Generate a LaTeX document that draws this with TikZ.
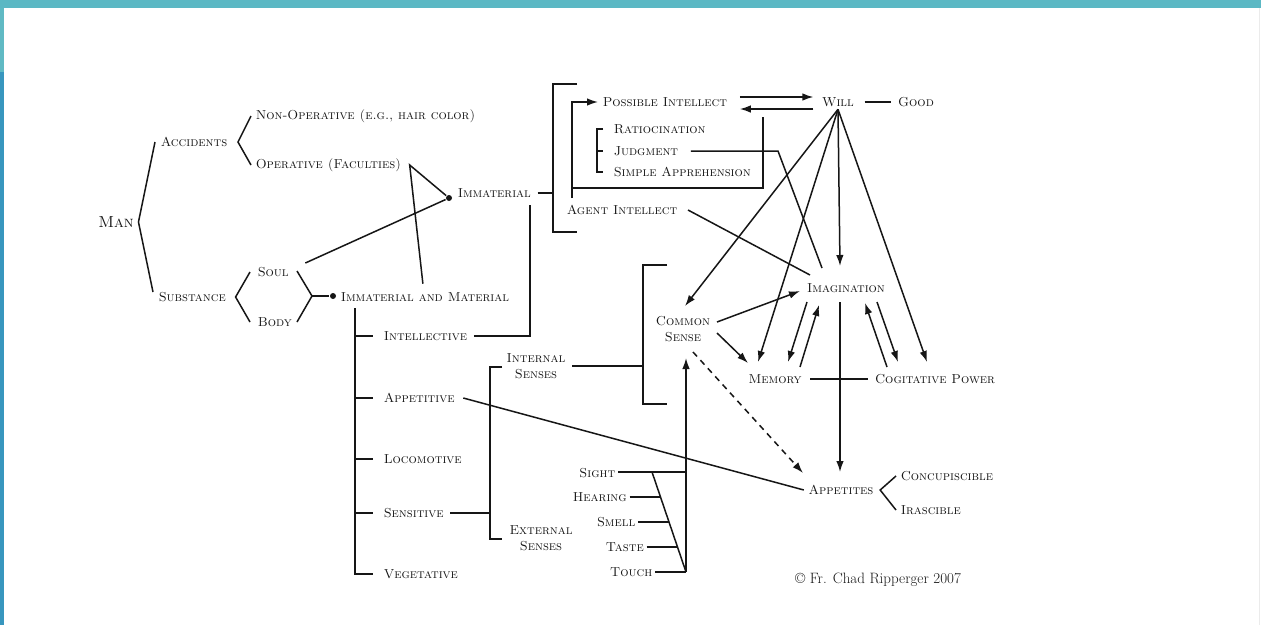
\documentclass[tikz,border=0pt]{standalone}
\usepackage{amsmath,amssymb}
\usepackage{xcolor}
\usetikzlibrary{arrows.meta,calc}

\definecolor{barteal}{RGB}{91,184,196}
\definecolor{stripteal}{RGB}{96,186,196}
\definecolor{stripblue}{RGB}{56,150,190}
\definecolor{ink}{RGB}{22,22,22}

\tikzset{
  lbl/.style={font=\scshape\fontsize{13}{14}\selectfont, inner sep=2pt},
  twoline/.style={align=center, inner sep=2pt, font=\scshape\fontsize{13}{16.5}\selectfont},
  arr/.style={-{Latex[length=11pt,width=7.5pt]}},
  jdot/.style={circle, fill=ink, inner sep=0pt, minimum size=6pt},
}

\begin{document}
\begin{tikzpicture}[x=1pt, y=-1pt, line width=1.5pt, color=ink]
    % page and frame
    \fill[white] (0,0) rectangle (1261,625);
    \useasboundingbox (0,0) rectangle (1261,625);
    \fill[barteal] (0,0) rectangle (1261,8);
    \fill[stripteal] (0,8) rectangle (4,72);
    \fill[stripblue] (0,72) rectangle (4,625);
    \draw[black!8, line width=0.8pt] (1259,8) -- (1259,625);

    % left tree
    \node[lbl, font=\scshape\fontsize{16}{16}\selectfont] (man) at (116,222) {Man};
    \node[lbl, anchor=west] (accidents) at (158,142) {Accidents};
    \node[lbl, anchor=west] (substance) at (156,297) {Substance};
    \node[lbl, anchor=west] (nonop) at (253,116) {Non-Operative (e.g., hair color)};
    \node[lbl, anchor=west] (operative) at (253,165) {Operative (Faculties)};
    \node[lbl, anchor=west] (soul) at (255,272) {Soul};
    \node[lbl, anchor=west] (body) at (255,322) {Body};
    \node[lbl, anchor=west] (immaterial) at (455,193) {Immaterial};
    \node[lbl, anchor=west] (immat) at (338,297) {Immaterial and Material};
    \node[jdot] (jimm) at (449,198) {};
    \node[jdot] (jmat) at (333,296) {};

    \draw ([xshift=-3pt]accidents.west) -- ([xshift=2pt]man.east) -- ([shift={(-3,-5)}]substance.west);
    \draw ([xshift=-2pt]nonop.west) -- ([xshift=8pt]accidents.east) -- ([xshift=-2pt]operative.west);
    \draw ([xshift=-5pt]soul.west) -- ([xshift=7pt]substance.east) -- ([xshift=-5pt]body.west);
    \coordinate (sbv) at (312,296);
    \draw (sbv) ++(-15,-25) -- (sbv) -- ++(-15,26);
    \draw (sbv) -- (jmat);
    \draw ([shift={(14,-9)}]soul.east) -- (jimm);
    \coordinate (opv) at ([xshift=6pt]operative.east);
    \draw (jimm) -- (opv) -- ([shift={(-2,-6)}]immat.north);

    % faculties
    \foreach \n/\t/\y in {intellective/Intellective/336, appetitive/Appetitive/398,
                          locomotive/Locomotive/459, sensitive/Sensitive/513, vegetative/Vegetative/574}
        \node[lbl, anchor=west] (\n) at (381,\y) {\t};
    \coordinate (spine) at (355,308);
    \draw (spine) |- ([xshift=-8pt]vegetative.west);
    \foreach \n in {intellective,appetitive,locomotive,sensitive}
        \draw (spine |- \n.west) -- ([xshift=-8pt]\n.west);
    \coordinate (iup) at (530,205);
    \draw ([xshift=4pt]intellective.east) -| (iup);

    % intellect
    \coordinate (bkl) at (553,84);
    \draw (bkl) ++(24,0) -- (bkl) -- ++(0,148) -- ++(24,0);
    \draw ([xshift=4pt]immaterial.east) -- (immaterial.east -| bkl);
    \node[lbl, anchor=west] (possible) at (600,102) {Possible Intellect};
    \node[lbl] (will) at (838,102) {Will};
    \node[lbl] (good) at (916,102) {Good};
    \node[lbl, anchor=west] (ratio) at (611,129) {Ratiocination};
    \node[lbl, anchor=west] (judgment) at (611,151) {Judgment};
    \node[lbl, anchor=west] (simple) at (611,172) {Simple Apprehension};
    \node[lbl, anchor=west] (agent) at (564,210) {Agent Intellect};
    \coordinate (rbk) at (597,129);
    \draw ([xshift=-8pt]ratio.west) -- (rbk) |- ([xshift=-8pt]simple.west);
    \draw (judgment.west -| rbk) -- ([xshift=-8pt]judgment.west);
    \coordinate (lpx) at (572,198);
    \coordinate (lbot) at (572,188);
    \coordinate (rtop) at (763,117);
    \draw[arr] (lpx) |- ([xshift=-2pt]possible.west);
    \draw (rtop) |- (lbot);
    \draw[arr] ([shift={(10,-5)}]possible.east) -- ([shift={(-6,-5)}]will.west);
    \draw[arr] ([shift={(-6,7)}]will.west) -- ([shift={(10,7)}]possible.east);
    \draw ([xshift=8pt]will.east) -- ([xshift=-4pt]good.west);

    % senses
    \node[twoline] (internal) at (536,366) {Internal\\Senses};
    \node[twoline] (external) at (541,538) {External\\Senses};
    \node[twoline] (common) at (683,329) {Common\\Sense};
    \coordinate (sbk) at (490,367);
    \draw ([xshift=4pt]sensitive.east) -- (sensitive.east -| sbk);
    \draw (sbk) ++(12,0) -- (sbk) -- ++(0,172) -- ++(12,0);
    \coordinate (ibk) at (643,265);
    \draw ([xshift=4pt]internal.east) -- (internal.east -| ibk);
    \draw (ibk) ++(24,0) -- (ibk) -- ++(0,139) -- ++(24,0);
    \coordinate (dtop) at (652,472);
    \coordinate (dbot) at (686,572);
    \node[lbl, anchor=east] (sight) at ($(dtop)+(-34,1)$) {Sight};
    \foreach \s/\t/\f in {hearing/Hearing/.25, smell/Smell/.5, taste/Taste/.75, touch/Touch/1} {
        \node[lbl, anchor=east] (\s) at ($(dtop)!\f!(dbot)+(-31,0)$) {\t};
        \draw (\s.east) -- ++(31,0);
    }
    \draw (dtop) -- (dbot);
    \draw (sight.east |- dtop) -- (dtop -| dbot);
    \draw[arr] (dbot) -- ($(dbot |- common)+(0,29)$);

    % imagination and appetites
    \node[lbl] (imagination) at (846,288) {Imagination};
    \node[lbl] (memory) at (775,379) {Memory};
    \node[lbl] (cogitative) at (935,379) {Cogitative Power};
    \node[lbl] (appetites) at (841,490) {Appetites};
    \node[lbl, anchor=west] (concup) at (898,476) {Concupiscible};
    \node[lbl, anchor=west] (irasc) at (898,510) {Irascible};

    \draw[arr] (will.south) -- ($(common)+(2,-23)$);
    \draw[arr] (will.south) -- ($(memory)+(-17,-17)$);
    \draw[arr] (will.south) -- ($(imagination)+(-6,-22)$);
    \draw[arr] (will.south) -- ($(cogitative)+(-8,-17)$);
    \draw ([xshift=10pt]judgment.east) -- (778,151) -- ($(imagination)+(-24,-20)$);
    \draw ([xshift=8pt]agent.east) -- ($(imagination)+(-36,-13)$);
    \draw[arr] ($(common)+(34,-7)$) -- ($(imagination)+(-46,3)$);
    \draw[arr] ($(common)+(34,4)$) -- ($(memory)+(-27,-16)$);
    \draw[arr] ($(imagination)+(-39,14)$) -- ($(memory)+(13,-17)$);
    \draw[arr] ($(memory)+(25,-12)$) -- ($(imagination)+(-27,17)$);
    \draw[arr] ($(imagination)+(31,14)$) -- ($(cogitative)+(-37,-17)$);
    \draw[arr] ($(cogitative)+(-48,-12)$) -- ($(imagination)+(19,15)$);
    \draw[arr] ($(imagination)+(-6,14)$) -- ($(appetites)+(-1,-18)$);
    \draw[arr, dash pattern=on 6pt off 5pt] ($(common)+(10,23)$) -- ($(appetites)+(-38,-17)$);
    \draw ([xshift=6pt]memory.east) -- ([xshift=-4pt]memory.east -| cogitative.west);
    \draw ([xshift=6pt]appetitive.east) -- ([xshift=-2pt]appetites.west);
    \draw ([xshift=-2pt]concup.west) -- ([xshift=4pt]appetites.east) -- ([xshift=-2pt]irasc.west);

    \node[font=\fontsize{15}{16}\selectfont] (credit) at (878,580) {\textcopyright{} Fr. Chad Ripperger 2007};
\end{tikzpicture}
\end{document}
